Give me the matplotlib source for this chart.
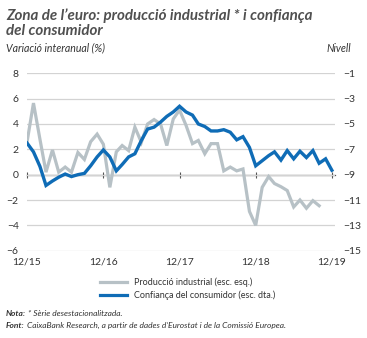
import matplotlib
matplotlib.use("Agg")
import matplotlib.pyplot as plt
from matplotlib.lines import Line2D
import pandas as pd

plt.rcParams['font.family'] = ['Lato', 'DejaVu Sans']

# ---- data ----
ip_values = [2.55, 5.65, 2.8, 0.2, 1.95, 0.2, 0.6, 0.2, 1.75, 1.2, 2.6, 3.2,
             2.4, -1.0, 1.8, 2.3, 1.9, 3.75, 2.55, 4.0, 4.35, 4.0, 2.3, 4.4,
             5.1, 3.9, 2.45, 2.7, 1.65, 2.45, 2.45, 0.3, 0.6, 0.3, 0.45, -2.9,
             -4.0, -1.0, -0.15, -0.7, -0.95, -1.25, -2.55, -2.0, -2.65, -2.05, -2.45]
conf_values = [-6.5, -7.2, -8.35, -9.85, -9.5, -9.2, -8.95, -9.15, -9.0, -8.9, -8.3, -7.6,
               -7.05, -7.6, -8.7, -8.2, -7.6, -7.35, -6.3, -5.4, -5.25, -4.85, -4.4, -4.05,
               -3.6, -4.05, -4.3, -5.0, -5.2, -5.55, -5.55, -5.45, -5.65, -6.25, -6.0, -6.85,
               -8.3, -7.9, -7.5, -7.2, -7.85, -7.1, -7.75, -7.15, -7.65, -7.1, -8.1, -7.75,
               -8.65]
start_month = '2015-12-01'
x_tick_dates = ['2015-12-01', '2016-12-01', '2017-12-01', '2018-12-01', '2019-12-01']
x_tick_labels = ['12/15', '12/16', '12/17', '12/18', '12/19']
left_ticks = [8, 6, 4, 2, 0, -2, -4, -6]
right_ticks = [-1, -3, -5, -7, -9, -11, -13, -15]

ip_dates = pd.date_range(start_month, periods=len(ip_values), freq='MS')
conf_dates = pd.date_range(start_month, periods=len(conf_values), freq='MS')

GRAY = '#b7c1c6'
BLUE = '#0f6cb6'
TXT = '#333333'

fig = plt.figure(figsize=(3.67, 3.38), dpi=100)
ax = fig.add_axes([27/367, 1-250.7/338, (335-27)/367, (250.7-73.3)/338])
ax2 = ax.twinx()

ax.set_ylim(-6, 8)
ax2.set_ylim(-15, -1)
ax.set_xlim(pd.Timestamp('2015-12-01'), pd.Timestamp('2019-12-16'))

for a in (ax, ax2):
    for s in a.spines.values():
        s.set_visible(False)

ax.set_yticks(left_ticks)
ax.grid(axis='y', color='#d3d3d3', linewidth=0.9)
ax.set_axisbelow(True)
ax.tick_params(axis='y', length=0, pad=6, labelsize=7.5, labelcolor=TXT)
ax2.set_yticks(right_ticks)
ax2.tick_params(axis='y', length=0, pad=6, labelsize=7.5, labelcolor=TXT)

ax.set_xticks([pd.Timestamp(d) for d in x_tick_dates])
ax.set_xticklabels(x_tick_labels)
ax.tick_params(axis='x', length=0, pad=5, labelsize=7.5, labelcolor=TXT)

# zero axis with year ticks
zero_pos = (0 - ax.get_ylim()[0]) / (ax.get_ylim()[1] - ax.get_ylim()[0])
sec = ax.secondary_xaxis(zero_pos)
sec.set_xticks([pd.Timestamp(d) for d in x_tick_dates])
sec.set_xticklabels([])
sec.tick_params(axis='x', direction='inout', length=5, width=0.8, color='#555555')
sec.spines['bottom'].set_color('#555555')
sec.spines['bottom'].set_linewidth(0.9)

ax.plot(ip_dates, ip_values, color=GRAY, linewidth=2.3, solid_joinstyle='miter', zorder=3)
ax2.plot(conf_dates, conf_values, color=BLUE, linewidth=2.4, solid_joinstyle='miter', zorder=4)

# titles
fig.text(6/367, 1-16/338, "Zona de l\u2019euro: producció industrial * i confiança",
         fontsize=10.9, fontweight='bold', fontstyle='italic', color='#505050', va='center')
fig.text(6/367, 1-31/338, "del consumidor",
         fontsize=10.9, fontweight='bold', fontstyle='italic', color='#505050', va='center')
fig.text(6/367, 1-48/338, "Variació interanual (%)", fontsize=7.6, fontstyle='italic',
         color=TXT, va='center')
fig.text(351/367, 1-48/338, "Nivell", fontsize=7.6, fontstyle='italic',
         color=TXT, va='center', ha='right')

# legend
handles = [Line2D([], [], color=GRAY, linewidth=2.3),
           Line2D([], [], color=BLUE, linewidth=2.3)]
fig.legend(handles, ['Producció industrial (esc. esq.)', 'Confiança del consumidor (esc. dta.)'],
           loc='upper left', bbox_to_anchor=(95/367, 1-273/338), frameon=False,
           fontsize=6.5, handlelength=3.0, handletextpad=0.8, labelspacing=0.35,
           borderpad=0, labelcolor=TXT)

# notes
renderer = fig.canvas.get_renderer()
def mixed(y, bold, rest):
    t1 = fig.text(6/367, 1-y/338, bold, fontsize=6, fontweight='bold', fontstyle='italic',
                  color=TXT, va='center')
    bb = t1.get_window_extent(renderer=renderer)
    x2 = bb.x1 / fig.bbox.width + 2/367
    fig.text(x2, 1-y/338, rest, fontsize=6, fontstyle='italic', color=TXT, va='center')

mixed(314, "Nota:", "* Sèrie desestacionalitzada.")
mixed(325, "Font:", "CaixaBank Research, a partir de dades d\u2019Eurostat i de la Comissió Europea.")

fig.savefig('out.png', dpi=100)
